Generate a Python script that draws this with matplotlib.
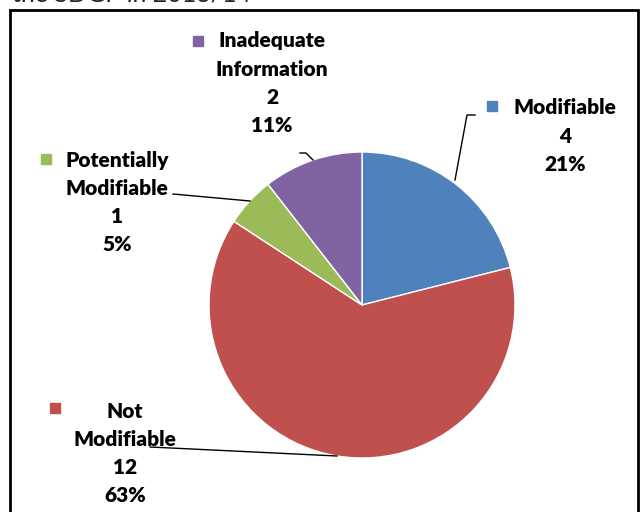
import matplotlib.pyplot as plt
from matplotlib.patches import Rectangle

categories = ['Modifiable', 'Not\nModifiable', 'Potentially\nModifiable', 'Inadequate\nInformation']
counts = [4, 12, 1, 2]
colors = ['#4F81BD', '#C0504D', '#9BBB59', '#8064A2']

W, H = 643, 512
total = sum(counts)

fig = plt.figure(figsize=(W / 100, H / 100), dpi=100)
ax = fig.add_axes([0, 0, 1, 1])
ax.set_xlim(0, W)
ax.set_ylim(0, H)
ax.set_aspect('equal')
ax.axis('off')

# chart frame (cut off at bottom) and clipped caption above it
ax.add_patch(Rectangle((10, -20), 628, H - 10 + 20, fill=False, lw=2, ec='black'))
ax.text(12, H + 6, 'the SDGP in 2013/14', fontsize=18, family='Lato', va='center', color='#222222')

ax.pie(counts, colors=colors, startangle=90, counterclock=False,
       center=(362, H - 305), radius=153,
       wedgeprops=dict(edgecolor='white', linewidth=1))
ax.set_xlim(0, W)
ax.set_ylim(0, H)

# label layout: (square x, square y, text center x, first line y)
label_pos = [(492, 106, 565, 108),
             (55, 408, 125, 411),
             (46, 159, 117, 160),
             (198, 41, 272, 41)]
step = 28.3
for cat, n, col, (sx, sy, tx, ty) in zip(categories, counts, colors, label_pos):
    ax.add_patch(Rectangle((sx - 5, H - sy - 5), 10, 10, color=col))
    lines = cat.split('\n') + [str(n), '%d%%' % round(100 * n / total)]
    for i, s in enumerate(lines):
        ax.text(tx, H - (ty + i * step), s, ha='center', va='center',
                fontsize=15, fontweight='heavy', family='Lato')

# leader lines
leaders = [[(475, 115), (467, 115), (455, 180)],
           [(150, 447), (337, 456)],
           [(173, 194), (250, 201)],
           [(300, 153), (306, 153), (313, 160)]]
for pts in leaders:
    ax.plot([p[0] for p in pts], [H - p[1] for p in pts], color='black', lw=1)

fig.savefig('out.png', dpi=100)
